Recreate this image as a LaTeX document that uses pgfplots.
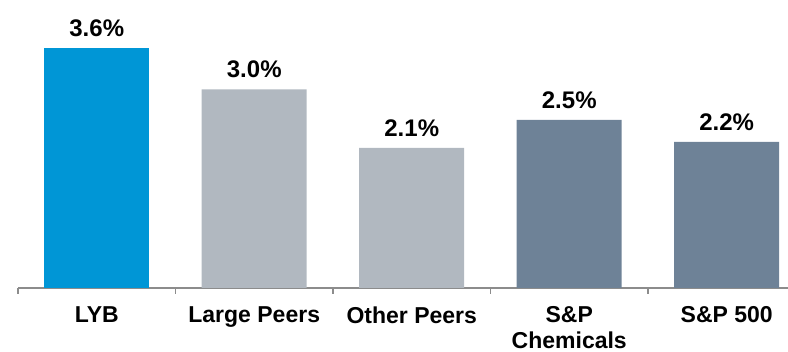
\documentclass[border=0pt]{standalone}
\usepackage{pgfplots}
\pgfplotsset{compat=1.18}
\usepackage{fontspec}
\setmainfont{Liberation Sans}
\definecolor{lybblue}{HTML}{0096D6}
\definecolor{peergray}{HTML}{B1B8C0}
\definecolor{slate}{HTML}{6E8297}
\definecolor{axgray}{HTML}{8C8C8C}
\begin{document}
\begin{tikzpicture}
\useasboundingbox (0,0) rectangle (788pt,352pt);
\begin{axis}[
  at={(18pt,64pt)}, anchor=south west,
  scale only axis, width=770pt, height=288pt,
  xmin=-0.5, xmax=4.389, ymin=0, ymax=4.32,
  axis x line*=bottom, axis y line=none,
  axis line style={draw=axgray, line width=1.5pt},
  xtick={-0.5,0.5,1.5,2.5,3.5,4.5}, xticklabels={},
  tick style={draw=axgray, line width=1.5pt},
  major tick length=6pt, tick align=outside,
  extra x ticks={0,1,2,3,4},
  extra x tick labels={LYB,Large Peers,Other Peers,{S\&P\\Chemicals},S\&P 500},
  extra x tick style={major tick length=0pt, tick style={draw=none},
    xticklabel style={font=\fontsize{23}{26}\selectfont\bfseries, align=center, anchor=north, yshift=-15pt}},
  ybar, bar width=105pt, bar shift=0pt,
  clip=false,
  /pgf/number format/assume math mode=true,
  nodes near coords={\pgfmathprintnumber[fixed,fixed zerofill,precision=1,assume math mode=true]{\pgfplotspointmeta}\%},
  nodes near coords style={font=\fontsize{24}{27}\selectfont\bfseries, anchor=south, yshift=8pt, text=black},
]
\addplot[fill=lybblue, draw=none] coordinates {(0,3.6)};
\addplot[fill=peergray, draw=none] coordinates {(1,2.98) (2,2.1)};
\addplot[fill=slate, draw=none] coordinates {(3,2.52) (4,2.19)};
\end{axis}
\end{tikzpicture}
\end{document}
